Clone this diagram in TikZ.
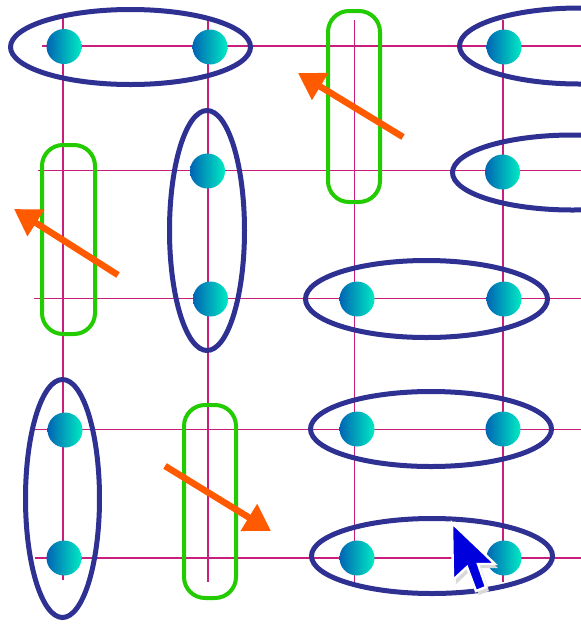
\documentclass[tikz,border=0pt]{standalone}
\usetikzlibrary{arrows.meta,shapes.geometric}
\definecolor{gridc}{RGB}{200,30,125}
\definecolor{ellc}{RGB}{46,49,146}
\definecolor{grnc}{RGB}{34,204,0}
\definecolor{orgc}{RGB}{255,90,0}
\definecolor{dotl}{RGB}{0,100,180}
\definecolor{dotr}{RGB}{0,235,195}
\definecolor{curc}{RGB}{0,0,220}
\begin{document}
\begin{tikzpicture}[x=1pt,y=-1pt,
  gridline/.style={gridc,line width=1.3pt},
  dot/.style={circle,minimum size=35pt,inner sep=0pt,left color=dotl,right color=dotr},
  pairell/.style={ellipse,draw=ellc,line width=5pt,inner sep=0pt},
  grnbox/.style={draw=grnc,line width=4pt,rounded corners=21pt,inner sep=0pt},
  movearrow/.style={orgc,line width=6.5pt,-{Triangle[length=26pt,width=30pt]}}]
\useasboundingbox (0,0) rectangle (581,625);
\clip (0,0) rectangle (581,625);
\fill[white] (0,0) rectangle (581,625);
% grid
\foreach \x/\t/\b in {63/18/580, 208/18/582, 354.5/20/582, 503/20/582}
  \draw[gridline] (\x,\t) -- (\x,\b);
\foreach \y/\l in {46/42, 170.5/38, 298.5/34, 429.5/35, 558/35}
  \draw[gridline] (\l,\y) -- (581,\y);
% blue ellipses
\node[pairell,minimum width=240pt,minimum height=75pt] (e1) at (130.5,47) {};
\node[pairell,minimum width=240pt,minimum height=76pt] (e2) at (579.5,46) {};
\node[pairell,minimum width=240pt,minimum height=75pt] (e3) at (572.5,172.5) {};
\node[pairell,minimum width=75pt,minimum height=240pt] (e4) at (207,230.5) {};
\node[pairell,minimum width=242pt,minimum height=77pt] (e5) at (426.5,299) {};
\node[pairell,minimum width=241pt,minimum height=75pt] (e6) at (431,429) {};
\node[pairell,minimum width=241pt,minimum height=75pt] (e7) at (432,556) {};
\node[pairell,minimum width=74pt,minimum height=238pt] (e8) at (62.5,498.5) {};
% green boxes
\node[grnbox,minimum width=52pt,minimum height=191pt] (g1) at (354,106.5) {};
\node[grnbox,minimum width=53pt,minimum height=189pt] (g2) at (68.5,239.5) {};
\node[grnbox,minimum width=52pt,minimum height=193pt] (g3) at (210,501.5) {};
% dots
\node[dot] (d11) at (64,46.5) {};
\node[dot] (d12) at (210,47) {};
\node[dot] (d14) at (504,47) {};
\node[dot] (d22) at (207.5,171) {};
\node[dot] (d24) at (502.5,172) {};
\node[dot] (d32) at (210.5,299) {};
\node[dot] (d33) at (357,299) {};
\node[dot] (d34) at (504,299) {};
\node[dot] (d41) at (65,430) {};
\node[dot] (d43) at (357,429) {};
\node[dot] (d44) at (503,429) {};
\node[dot] (d51) at (64,558) {};
\node[dot] (d53) at (357,558) {};
\node[dot] (d54) at (504,558) {};
% orange arrows
\coordinate (a1s) at (403,137); \coordinate (a1e) at (298,73);
\coordinate (a2s) at (118,275); \coordinate (a2e) at (14,209);
\coordinate (a3s) at (165,466); \coordinate (a3e) at (271,531);
\draw[movearrow] (a1s) -- (a1e);
\draw[movearrow] (a2s) -- (a2e);
\draw[movearrow] (a3s) -- (a3e);
% mouse cursor
\fill[black!15] (455,527) -- (456,584) -- (470,571) -- (479,595) -- (489,591) -- (481,568) -- (498,568) -- cycle;
\draw[white,line width=2.4pt,fill=curc,line join=miter]
  (452,523) -- (453,580) -- (467,567) -- (476,591) -- (486,587) -- (478,564) -- (495,564) -- cycle;
\end{tikzpicture}
\end{document}
